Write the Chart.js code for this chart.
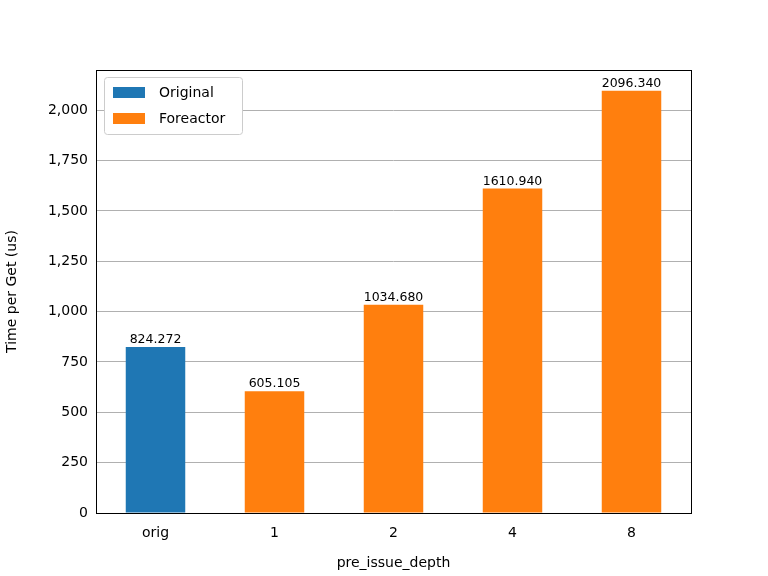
<!DOCTYPE html>
<html><head><script src="https://cdn.jsdelivr.net/npm/chart.js"></script>
<style>body{margin:0;background:#fff}</style></head>
<body><canvas id="c" width="768" height="576" style="width:768px;height:576px"></canvas>
<script>
const categories = ["orig","1","2","4","8"];
const originalValues = [824.272,null,null,null,null];
const foreactorValues = [null,605.105,1034.680,1610.940,2096.340];
const yTicks = [0,250,500,750,1000,1250,1500,1750,2000];
const F = "'DejaVu Sans', sans-serif";
const overlay = {
  id:'overlay',
  afterDatasetsDraw(chart){
    const {ctx, chartArea:a} = chart;
    ctx.save();
    ctx.font = "12.5px "+F; ctx.fillStyle="#000"; ctx.textAlign="center"; ctx.textBaseline="bottom";
    chart.data.datasets.forEach((ds,i)=>{
      chart.getDatasetMeta(i).data.forEach((el,j)=>{
        const v = ds.data[j]; if(v==null) return;
        ctx.fillText(v.toFixed(3), el.x, el.y-1);
      });
    });
    ctx.strokeStyle="#000"; ctx.lineWidth=1;
    ctx.strokeRect(Math.round(a.left)+0.5, Math.round(a.top)+0.5, Math.round(a.right-a.left), Math.round(a.bottom-a.top));
    // legend
    const lx=a.left+8, ly=a.top+7;
    ctx.fillStyle="#fff"; ctx.strokeStyle="#ccc";
    ctx.beginPath(); ctx.roundRect(lx+0.5,ly+0.5,138,57,3); ctx.fill(); ctx.stroke();
    const items=[["Original","#1f77b4"],["Foreactor","#ff7f0e"]];
    ctx.textAlign="left"; ctx.textBaseline="middle"; ctx.font="14px "+F;
    items.forEach((it,k)=>{
      const cy=ly+15+k*26;
      ctx.fillStyle=it[1]; ctx.fillRect(lx+9,cy-5,32,11);
      ctx.fillStyle="#000"; ctx.fillText(it[0], lx+55, cy+1);
    });
    ctx.restore();
  }
};
new Chart(document.getElementById('c'),{
  type:'bar',
  data:{labels:categories,datasets:[
    {label:'Original',data:originalValues,backgroundColor:'#1f77b4',barPercentage:0.5,categoryPercentage:1},
    {label:'Foreactor',data:foreactorValues,backgroundColor:'#ff7f0e',barPercentage:0.5,categoryPercentage:1}
  ]},
  options:{responsive:false,animation:false,devicePixelRatio:1,
    layout:{padding:{top:70,right:77,left:0,bottom:0}},
    plugins:{legend:{display:false},tooltip:{enabled:false}},
    scales:{
      x:{stacked:true,grid:{display:false,drawTicks:true},border:{display:false},
        ticks:{color:'#000',font:{family:F,size:14},padding:4},
        title:{display:true,text:'pre_issue_depth',color:'#000',font:{family:F,size:14},padding:{top:2}},
        afterFit(s){s.height=63;}},
      y:{stacked:true,min:0,max:2200,border:{display:false},
        grid:{color:'#b0b0b0',drawTicks:false},
        afterBuildTicks(s){s.ticks=yTicks.map(v=>({value:v}));},
        ticks:{color:'#000',font:{family:F,size:14},padding:8},
        title:{display:true,text:'Time per Get (us)',color:'#000',font:{family:F,size:14}},
        afterFit(s){s.width=96;}}
    }},
  plugins:[overlay]
});
</script></body></html>
